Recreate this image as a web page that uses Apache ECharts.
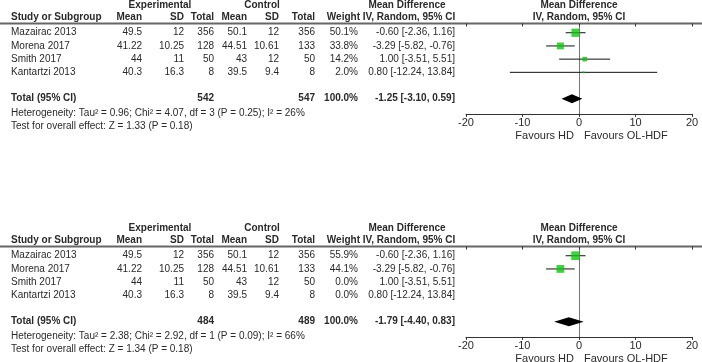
<!DOCTYPE html>
<html>
<head>
<meta charset="utf-8" />
<title>Forest plot</title>
<style>
  html, body { margin: 0; padding: 0; background: #fff; }
  #chart { width: 702px; height: 362px; }
</style>
</head>
<body>
<div id="chart"></div>
<script src="https://cdn.jsdelivr.net/npm/echarts@6/dist/echarts.min.js"></script>
<script>
// ---- data ----
var studies  = ['Mazairac 2013', 'Morena 2017', 'Smith 2017', 'Kantartzi 2013'];
var expMean  = [49.5, 41.22, 44, 40.3];
var expSD    = [12, 10.25, 11, 16.3];
var expN     = [356, 128, 50, 8];
var ctrlMean = [50.1, 44.51, 43, 39.5];
var ctrlSD   = [12, 10.61, 12, 9.4];
var ctrlN    = [356, 133, 50, 8];
var md       = [-0.60, -3.29, 1.00, 0.80];
var ciLow    = [-2.36, -5.82, -3.51, -12.24];
var ciHigh   = [1.16, -0.76, 5.51, 13.84];

// panel A (all four studies), panel B (sensitivity)
var weights    = [[50.1, 33.8, 14.2, 2.0], [55.9, 44.1, 0, 0]];
var expTotal   = [542, 484];
var ctrlTotal  = [547, 489];
var pooledMD   = [-1.25, -1.79];
var pooledLow  = [-3.10, -4.40];
var pooledHigh = [0.59, 0.83];
var hetText  = ['Heterogeneity: Tau\u00b2 = 0.96; Chi\u00b2 = 4.07, df = 3 (P = 0.25); I\u00b2 = 26%',
                'Heterogeneity: Tau\u00b2 = 2.38; Chi\u00b2 = 2.92, df = 1 (P = 0.09); I\u00b2 = 66%'];
var testText = ['Test for overall effect: Z = 1.33 (P = 0.18)',
                'Test for overall effect: Z = 1.34 (P = 0.18)'];

// ---- layout ----
var FONT = 'Arial, "Liberation Sans", sans-serif';
var TXT = '#2a2a2a';
var panelOff = [0, 223];
var ROWH = 13.2, GRID_TOP = 23.5, Y_MIN = -0.7, Y_MAX = 6.15, TOTAL_ROW = 5;
// right edges of table columns
var colX = { study: 11, eMean: 142, eSD: 184, eN: 214, cMean: 247, cSD: 279, cN: 315, weight: 358, ci: 455 };

function fmtCI(m, l, h) {
  return m.toFixed(2) + ' [' + l.toFixed(2) + ', ' + h.toFixed(2) + ']';
}
function txt(x, y, s, align, bold, size) {
  return {
    type: 'text', silent: true,
    style: {
      x: x, y: y, text: s, fill: TXT,
      font: (bold ? 'bold ' : '') + (size || 10) + 'px ' + FONT,
      textAlign: align, align: align,
      textVerticalAlign: 'middle', verticalAlign: 'middle'
    }
  };
}

var option = {
  animation: false,
  grid: [], xAxis: [], yAxis: [], series: [], graphic: []
};

panelOff.forEach(function (off, k) {
  var w = weights[k];
  option.grid.push({ left: 466, width: 226, top: off + GRID_TOP, height: (Y_MAX - Y_MIN) * ROWH });
  option.xAxis.push({
    gridIndex: k, type: 'value', min: -20, max: 20, interval: 10,
    axisLine: { onZero: false, lineStyle: { color: '#333', width: 1 } },
    axisTick: { show: true, inside: false, length: 3, lineStyle: { color: '#333' } },
    axisLabel: { color: TXT, fontSize: 11, fontFamily: FONT, margin: 4 },
    splitLine: { show: false }
  });
  option.xAxis.push({
    gridIndex: k, type: 'value', min: -20, max: 20, interval: 10,
    axisLine: { show: false, onZero: false },
    axisTick: { show: true, inside: true, length: 3, lineStyle: { color: '#333' } },
    axisLabel: { show: false }, splitLine: { show: false }
  });
  option.yAxis.push({
    gridIndex: k, type: 'value', inverse: true, min: Y_MIN, max: Y_MAX,
    axisLine: { show: true, onZero: true, lineStyle: { color: '#777', width: 1 } },
    axisTick: { show: false }, axisLabel: { show: false }, splitLine: { show: false }
  });

  var xi = 2 * k;
  // study rows text
  option.series.push({
    type: 'custom', xAxisIndex: xi, yAxisIndex: k, clip: false, silent: true,
    data: studies.map(function (s, i) { return [0, i]; }),
    renderItem: function (params, api) {
      var i = params.dataIndex;
      var y = api.coord([0, i])[1];
      return {
        type: 'group', children: [
          txt(colX.study, y, studies[i], 'left'),
          txt(colX.eMean, y, String(expMean[i]), 'right'),
          txt(colX.eSD, y, String(expSD[i]), 'right'),
          txt(colX.eN, y, String(expN[i]), 'right'),
          txt(colX.cMean, y, String(ctrlMean[i]), 'right'),
          txt(colX.cSD, y, String(ctrlSD[i]), 'right'),
          txt(colX.cN, y, String(ctrlN[i]), 'right'),
          txt(colX.weight, y, w[i].toFixed(1) + '%', 'right'),
          txt(colX.ci, y, fmtCI(md[i], ciLow[i], ciHigh[i]), 'right')
        ]
      };
    }
  });
  // total row text
  option.series.push({
    type: 'custom', xAxisIndex: xi, yAxisIndex: k, clip: false, silent: true,
    data: [[0, TOTAL_ROW]],
    renderItem: function (params, api) {
      var y = api.coord([0, TOTAL_ROW])[1];
      return {
        type: 'group', children: [
          txt(colX.study, y, 'Total (95% CI)', 'left', true),
          txt(colX.eN, y, String(expTotal[k]), 'right', true),
          txt(colX.cN, y, String(ctrlTotal[k]), 'right', true),
          txt(colX.weight, y, '100.0%', 'right', true),
          txt(colX.ci, y, fmtCI(pooledMD[k], pooledLow[k], pooledHigh[k]), 'right', true)
        ]
      };
    }
  });
  // confidence interval whiskers (studies with weight > 0)
  option.series.push({
    type: 'custom', xAxisIndex: xi, yAxisIndex: k, clip: false, silent: true, z: 3,
    data: studies.map(function (s, i) { return [ciLow[i], ciHigh[i], i, w[i]]; })
      .filter(function (d) { return d[3] > 0; }),
    renderItem: function (params, api) {
      var a = api.coord([api.value(0), api.value(2)]);
      var b = api.coord([api.value(1), api.value(2)]);
      return { type: 'line', shape: { x1: a[0], y1: a[1], x2: b[0], y2: b[1] },
               style: { stroke: '#111', lineWidth: 1 } };
    }
  });
  // study point estimates
  option.series.push({
    type: 'scatter', xAxisIndex: xi, yAxisIndex: k, silent: true, z: 4,
    symbol: 'rect',
    data: md.map(function (m, i) { return [m, i, w[i]]; })
      .filter(function (d) { return d[2] > 0; }),
    symbolSize: function (v) { return Math.sqrt(v[2]) * 1.1 + 0.5; },
    itemStyle: { color: '#14c214' }
  });
  // pooled diamond
  option.series.push({
    type: 'custom', xAxisIndex: xi, yAxisIndex: k, clip: false, silent: true, z: 4,
    data: [[pooledLow[k], pooledMD[k], pooledHigh[k], TOTAL_ROW]],
    renderItem: function (params, api) {
      var row = api.value(3);
      var l = api.coord([api.value(0), row]);
      var m = api.coord([api.value(1), row]);
      var h = api.coord([api.value(2), row]);
      return { type: 'polygon',
               shape: { points: [[l[0], l[1]], [m[0], m[1] - 4.5], [h[0], h[1]], [m[0], m[1] + 4.5]] },
               style: { fill: '#000' } };
    }
  });

  // headers, rule, footnotes
  option.graphic.push(
    txt(160, off + 5, 'Experimental', 'center', true),
    txt(262, off + 5, 'Control', 'center', true),
    txt(407, off + 5, 'Mean Difference', 'center', true),
    txt(579, off + 5, 'Mean Difference', 'center', true),
    txt(colX.study, off + 17, 'Study or Subgroup', 'left', true),
    txt(colX.eMean, off + 17, 'Mean', 'right', true),
    txt(colX.eSD, off + 17, 'SD', 'right', true),
    txt(colX.eN, off + 17, 'Total', 'right', true),
    txt(colX.cMean, off + 17, 'Mean', 'right', true),
    txt(colX.cSD, off + 17, 'SD', 'right', true),
    txt(colX.cN, off + 17, 'Total', 'right', true),
    txt(360, off + 17, 'Weight', 'right', true),
    txt(409, off + 17, 'IV, Random, 95% CI', 'center', true),
    txt(579, off + 17, 'IV, Random, 95% CI', 'center', true),
    { type: 'line', silent: true, shape: { x1: 0, y1: off + GRID_TOP, x2: 702, y2: off + GRID_TOP },
      style: { stroke: '#666', lineWidth: 2 } },
    txt(colX.study, off + 113, hetText[k], 'left'),
    txt(colX.study, off + 126, testText[k], 'left'),
    txt(574, off + 135.5, 'Favours HD', 'right', false, 11),
    txt(584, off + 135.5, 'Favours OL-HDF', 'left', false, 11)
  );
});

var chart = echarts.init(document.getElementById('chart'));
chart.setOption(option);
</script>
</body>
</html>
